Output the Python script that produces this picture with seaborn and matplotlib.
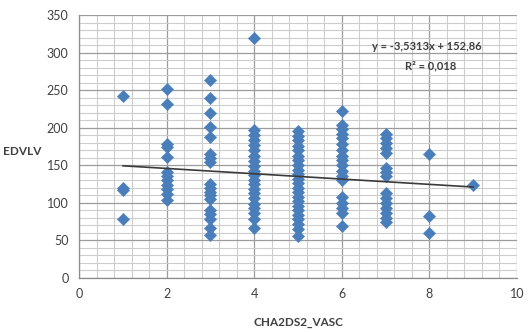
import matplotlib
matplotlib.use("Agg")
import matplotlib.pyplot as plt
from matplotlib.ticker import MultipleLocator
import seaborn as sns
import pandas as pd

# ---- data ----
score_1 = [242, 120, 117, 79]
score_2 = [251, 231, 178, 174, 161, 141, 136, 130, 124, 118, 112, 104]
score_3 = [263, 240, 219, 201, 187, 165, 160, 155, 125, 120, 115, 110, 105, 91, 85, 78, 66, 57]
score_4 = [319, 197, 190, 184, 177, 170, 163, 156, 149, 143, 137, 131, 125, 119, 113, 107, 99, 93, 86, 78, 66]
score_5 = [195, 189, 183, 176, 170, 163, 157, 150, 144, 138, 132, 126, 120, 114, 108, 102, 96, 90, 84, 78, 72, 65, 56]
score_6 = [222, 204, 198, 192, 186, 178, 170, 163, 157, 150, 143, 136, 130, 108, 100, 93, 86, 69]
score_7 = [192, 186, 180, 173, 167, 146, 141, 136, 113, 106, 100, 93, 87, 80, 74]
score_8 = [165, 82, 60]
score_9 = [124]

trend_slope = -3.5313
trend_intercept = 152.86
trend_x = [1, 9]
equation_text = "y = -3,5313x + 152,86"
r2_text = "R² = 0,018"

x_ticks = [0, 2, 4, 6, 8, 10]
y_ticks = [0, 50, 100, 150, 200, 250, 300, 350]

columns = {1: score_1, 2: score_2, 3: score_3, 4: score_4, 5: score_5,
           6: score_6, 7: score_7, 8: score_8, 9: score_9}
df = pd.DataFrame([(k, v) for k, vals in columns.items() for v in vals],
                  columns=["CHA2DS2_VASC", "EDVLV"])
trend_df = pd.DataFrame({"x": trend_x,
                         "y": [trend_slope * x + trend_intercept for x in trend_x]})

sns.set_style("white")
plt.rcParams["font.family"] = ["Lato", "DejaVu Sans"]

fig = plt.figure(figsize=(5.28, 3.32), dpi=100)
ax = fig.add_axes([79 / 528, 1 - 278 / 332, (517 - 79) / 528, (278 - 15) / 332])

ax.set_xlim(0, 10)
ax.set_ylim(0, 350)
ax.xaxis.set_major_locator(MultipleLocator(2))
ax.xaxis.set_minor_locator(MultipleLocator(0.4))
ax.yaxis.set_major_locator(MultipleLocator(50))
ax.yaxis.set_minor_locator(MultipleLocator(10))
ax.grid(which="major", color="#9c9c9c", linewidth=0.9)
ax.grid(which="minor", color="#cdcdcd", linewidth=0.8)
ax.set_axisbelow(True)

sns.scatterplot(data=df, x="CHA2DS2_VASC", y="EDVLV", marker="D", s=40,
                color="#4A7EBB", edgecolor="#4A7EBB", linewidth=0.3, ax=ax,
                zorder=3)
sns.lineplot(data=trend_df, x="x", y="y", color="#3a3a3a", linewidth=1.2,
             ax=ax, zorder=4)

for s in ["top", "right"]:
    ax.spines[s].set_visible(False)
for s in ["left", "bottom"]:
    ax.spines[s].set_color("#8c8c8c")
    ax.spines[s].set_linewidth(0.9)

ax.set_xticks(x_ticks)
ax.set_yticks(y_ticks)
ax.tick_params(which="major", direction="inout", length=5, width=0.8,
               color="#8c8c8c", labelsize=9, labelcolor="#404040", pad=5)
ax.tick_params(which="minor", length=0)
ax.set_xlabel("")
ax.set_ylabel("")

fig.text(22 / 528, 1 - 152 / 332, "EDVLV", fontsize=8.5, fontweight="bold",
         color="#404040", ha="center", va="center")
fig.text(298 / 528, 1 - 322 / 332, "CHA2DS2_VASC", fontsize=8.5,
         fontweight="bold", color="#404040", ha="center", va="center")
fig.text(427 / 528, 1 - 47 / 332, equation_text, fontsize=8, fontweight="bold",
         color="#404040", ha="center", va="center")
fig.text(431 / 528, 1 - 66 / 332, r2_text, fontsize=8, fontweight="bold",
         color="#404040", ha="center", va="center")

fig.savefig("out.png", dpi=100)
